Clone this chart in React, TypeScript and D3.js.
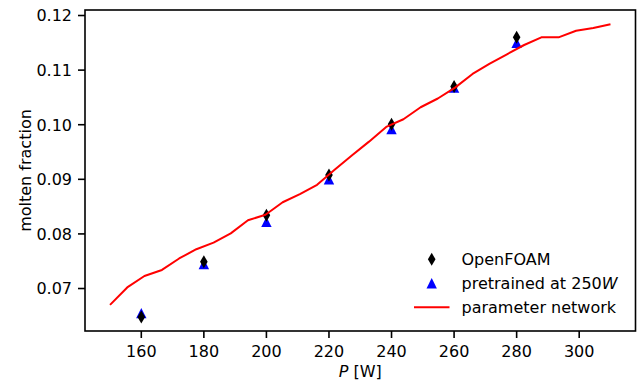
import React from "react";
import * as d3 from "d3";

const powers = [160, 180, 200, 220, 240, 260, 280];
const openFoam = [0.0648, 0.0749, 0.0834, 0.0908, 0.1001, 0.1070, 0.1160];
const pretrained = [0.0655, 0.0745, 0.0822, 0.0900, 0.0992, 0.1068, 0.1150];

const netP = [150, 155.5, 161.0, 166.6, 172.1, 177.6, 183.1, 188.6, 194.1, 199.7, 205.2, 210.7, 216.2, 221.7, 227.2,
  232.8, 238.3, 243.8, 249.3, 254.8, 260.3, 265.9, 271.4, 276.9, 282.4, 287.9, 293.4, 299.0, 304.5, 310];
const netFrac = [0.0670, 0.0702, 0.0723, 0.0734, 0.0755, 0.0772, 0.0784, 0.0801, 0.0825, 0.0835, 0.0858, 0.0873,
  0.0890, 0.0917, 0.0943, 0.0969, 0.0996, 0.1010, 0.1032, 0.1048, 0.1068, 0.1093, 0.1112, 0.1129, 0.1146, 0.1160,
  0.1160, 0.1172, 0.1177, 0.1184];

const xTicks = [160, 180, 200, 220, 240, 260, 280, 300];
const yTicks = [0.07, 0.08, 0.09, 0.10, 0.11, 0.12];

const W = 638, H = 384;
const L = 85, R = 635.5, T = 10, B = 331;
const FONT = "DejaVu Sans, sans-serif";
const FS = 16;

const diamond = (cx: number, cy: number) =>
  `M${cx},${cy - 6.5}L${cx + 3.8},${cy}L${cx},${cy + 6.5}L${cx - 3.8},${cy}Z`;
const triangle = (cx: number, cy: number) =>
  `M${cx},${cy - 5.2}L${cx + 5.2},${cy + 5.2}L${cx - 5.2},${cy + 5.2}Z`;

export default function App() {
  const x = d3.scaleLinear().domain([142, 318]).range([L, R]);
  const y = d3.scaleLinear().domain([0.06222, 0.12101]).range([B, T]);
  const line = d3.line<number>().x((_, i) => x(netP[i])).y((d) => y(d));

  return (
    <svg width={W} height={H} style={{ position: "fixed", left: 0, top: 0, background: "#fff" }}
      fontFamily={FONT}>
      <rect width={W} height={H} fill="#fff" />
      {powers.map((p, i) => (
        <path key={"t" + i} d={triangle(x(p), y(pretrained[i]))} fill="#0000ff" />
      ))}
      {powers.map((p, i) => (
        <path key={"d" + i} d={diamond(x(p), y(openFoam[i]))} fill="#000" />
      ))}
      <path d={line(netFrac) || ""} fill="none" stroke="#ff0000" strokeWidth={2} strokeLinejoin="round" />
      <rect x={L} y={T} width={R - L} height={B - T} fill="none" stroke="#000" strokeWidth={1.6} />
      {xTicks.map((t) => (
        <g key={"x" + t}>
          <line x1={x(t)} x2={x(t)} y1={B} y2={B + 7} stroke="#000" strokeWidth={1.6} />
          <text x={x(t)} y={B + 26} fontSize={FS} textAnchor="middle" fill="#000">{t}</text>
        </g>
      ))}
      <text x={(L + R) / 2} y={377} fontSize={FS} textAnchor="middle" fill="#000">
        <tspan fontStyle="italic">P</tspan> [W]
      </text>
      {yTicks.map((t) => (
        <g key={"y" + t}>
          <line x1={L - 7} x2={L} y1={y(t)} y2={y(t)} stroke="#000" strokeWidth={1.6} />
          <text x={L - 13} y={y(t) + 5.8} fontSize={FS} textAnchor="end" fill="#000">{t.toFixed(2)}</text>
        </g>
      ))}
      <text transform={`translate(31,${(T + B) / 2}) rotate(-90)`} fontSize={FS} textAnchor="middle" fill="#000">
        molten fraction
      </text>
      <path d={diamond(431.7, 259.3)} fill="#000" />
      <text x={461.5} y={265.1} fontSize={FS} fill="#000">OpenFOAM</text>
      <path d={triangle(431.7, 283.3)} fill="#0000ff" />
      <text x={461.5} y={289.1} fontSize={FS} fill="#000">
        pretrained at 250<tspan fontStyle="italic">W</tspan>
      </text>
      <line x1={414} x2={449.5} y1={307.3} y2={307.3} stroke="#ff0000" strokeWidth={2} />
      <text x={461.5} y={313.1} fontSize={FS} fill="#000">parameter network</text>
    </svg>
  );
}
